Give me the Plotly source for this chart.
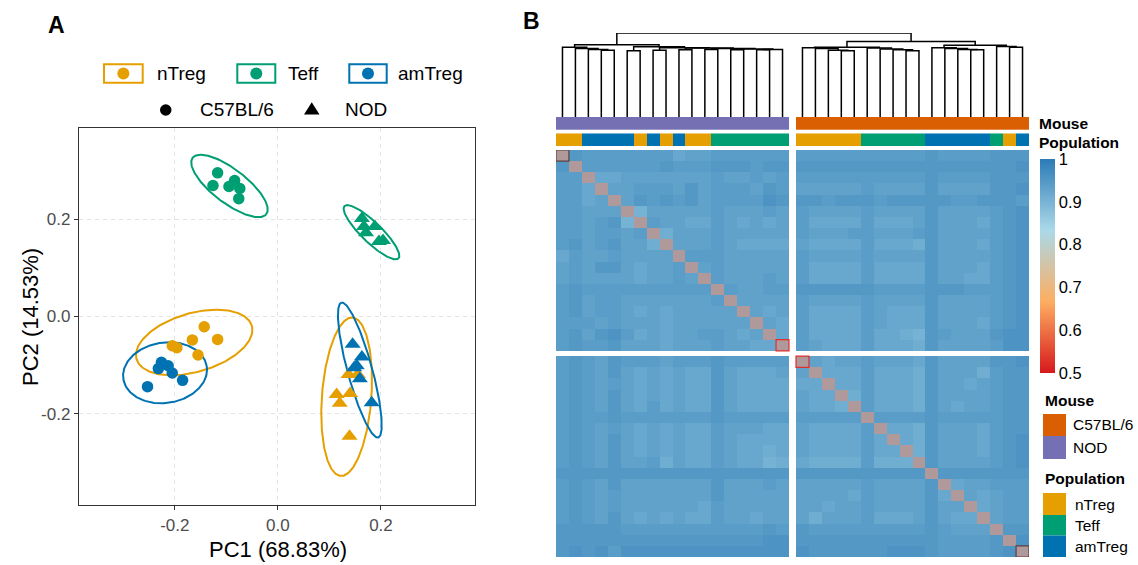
import numpy as np
import plotly.graph_objects as go

W, H = 1138, 565
FONT = "Liberation Sans, Arial, Helvetica, sans-serif"

# ---------------- shared categories ----------------
pop_names = ["nTreg", "Teff", "amTreg"]
pop_colors = ["#E69F00", "#009E73", "#0072B2"]
mouse_names = ["C57BL/6", "NOD"]
mouse_colors = ["#D95F02", "#7570B3"]

# ---------------- Panel A: PCA scores ----------------
ntreg_c57_pc1 = [-0.143, -0.166, -0.117, -0.205, -0.196, -0.155]
ntreg_c57_pc2 = [-0.021, -0.048, -0.047, -0.060, -0.064, -0.079]
teff_c57_pc1 = [-0.117, -0.126, -0.095, -0.084, -0.074, -0.076]
teff_c57_pc2 = [0.295, 0.269, 0.267, 0.279, 0.263, 0.242]
amtreg_c57_pc1 = [-0.226, -0.232, -0.213, -0.205, -0.185, -0.253]
amtreg_c57_pc2 = [-0.094, -0.107, -0.101, -0.116, -0.131, -0.144]
ntreg_nod_pc1 = [0.137, 0.155, 0.114, 0.140, 0.120, 0.139]
ntreg_nod_pc2 = [-0.119, -0.119, -0.160, -0.158, -0.178, -0.246]
teff_nod_pc1 = [0.163, 0.167, 0.188, 0.171, 0.196, 0.204]
teff_nod_pc2 = [0.201, 0.185, 0.185, 0.172, 0.154, 0.156]
amtreg_nod_pc1 = [0.145, 0.163, 0.153, 0.159, 0.182, 0.148]
amtreg_nod_pc2 = [-0.057, -0.083, -0.101, -0.128, -0.177, -0.105]

# 95% ellipses (centre, semi-axes, rotation in degrees)
ellipse_pop = ["Teff", "Teff", "nTreg", "amTreg", "nTreg", "amTreg"]
ellipse_cx = [-0.094, 0.1816, -0.1625, -0.219, 0.1334, 0.159]
ellipse_cy = [0.268, 0.173, -0.0533, -0.1155, -0.1647, -0.110]
ellipse_a = [0.092, 0.075, 0.117, 0.082, 0.163, 0.143]
ellipse_b = [0.034, 0.020, 0.060, 0.062, 0.048, 0.024]
ellipse_angle = [-39.5, -46.0, 17.6, 10.0, 86.0, 104.4]

x_ticks = [-0.2, 0.0, 0.2]
x_ticktext = ["-0.2", "0.0", "0.2"]
y_ticks = [-0.2, 0.0, 0.2]
y_ticktext = ["-0.2", "0.0", "0.2"]

# ---------------- Panel B: correlation heatmap ----------------
col_mouse = ["NOD"] * 18 + ["C57BL/6"] * 18
col_population = (["nTreg"] * 2 + ["amTreg"] * 4 + ["nTreg", "amTreg", "nTreg", "amTreg"]
                  + ["nTreg"] * 2 + ["Teff"] * 6
                  + ["nTreg"] * 5 + ["Teff"] * 5 + ["amTreg"] * 5 + ["Teff", "nTreg", "amTreg"])

# shade levels (0 = lightest ... 9 = darkest) read cell by cell
nod_nod_upper = [
    "65555555344555555", "5555556555666566", "334444444544545", "44555464555465",
    "4656564555576", "144444544454", "54433543434", "2444544444", "444543333",
    "55544444", "4544444", "544454", "54455", "4444", "434", "43", "3",
]
c57_c57_upper = [
    "43445444364444667", "3335333264442566", "335333264434566", "25333264444566",
    "5333264344566", "555565555566", "33264443566", "3264443567", "264443567",
    "64444567", "6666666", "344555", "43455", "3455", "455", "66", "7",
]
nod_c57_block = [
    "555555555565555666", "666666666666666667", "555555555565555666", "444445444464444667",
    "665666566666556665", "544445444464444567", "533335333464443567", "544455444564444567",
    "433335333264443567", "544445444464444567", "533335333364443567", "533335333364433567",
    "666666555566655567", "544445444464444567", "533335433364444567", "533335433364443567",
    "533335332165444677", "543335333264444577",
]
level_base = 0.894
level_step = 0.009

colorbar_ticks = [0.5, 0.6, 0.7, 0.8, 0.9, 1.0]
colorbar_ticktext = ["0.5", "0.6", "0.7", "0.8", "0.9", "1"]

# dendrogram: (left, right, height); leaves = column index
nod_tree = (
    (0, (1, (2, (3, 4, 0.795), 0.805), 0.815), 0.83),
    ((5, 6, 0.79),
     ((7, 8, 0.795),
      ((9, 10, 0.80),
       ((11, 12, 0.805),
        ((13, 14, 0.80), ((15, 16, 0.80), 17, 0.805), 0.81), 0.815), 0.82), 0.825), 0.835),
    0.86)
c57_tree = (
    ((18, (19, (20, (21, 22, 0.79), 0.795), 0.815), 0.825),
     (23, (24, (25, (26, 27, 0.79), 0.80), 0.81), 0.82), 0.83),
    ((28, (29, (30, (31, 32, 0.80), 0.805), 0.815), 0.825),
     (33, (34, 35, 0.83), 0.84), 0.853),
    0.90)
full_tree = (nod_tree, c57_tree, 1.0)

# ---------------- helpers ----------------
def fx(x):
    return x / W


def fy(y):
    return 1 - y / H


fig = go.Figure()

# ---------------- Panel A traces ----------------
pcol = dict(zip(pop_names, pop_colors))
for k in range(len(ellipse_cx)):
    t = np.linspace(0, 2 * np.pi, 241)
    th = np.deg2rad(ellipse_angle[k])
    a, b = ellipse_a[k], ellipse_b[k]
    ex = ellipse_cx[k] + a * np.cos(th) * np.cos(t) - b * np.sin(th) * np.sin(t)
    ey = ellipse_cy[k] + a * np.sin(th) * np.cos(t) + b * np.cos(th) * np.sin(t)
    fig.add_trace(go.Scatter(x=ex, y=ey, mode="lines", line=dict(color=pcol[ellipse_pop[k]], width=2),
                             hoverinfo="skip", xaxis="x", yaxis="y"))

point_groups = [
    ("nTreg", "C57BL/6", ntreg_c57_pc1, ntreg_c57_pc2),
    ("Teff", "C57BL/6", teff_c57_pc1, teff_c57_pc2),
    ("amTreg", "C57BL/6", amtreg_c57_pc1, amtreg_c57_pc2),
    ("nTreg", "NOD", ntreg_nod_pc1, ntreg_nod_pc2),
    ("Teff", "NOD", teff_nod_pc1, teff_nod_pc2),
    ("amTreg", "NOD", amtreg_nod_pc1, amtreg_nod_pc2),
]
for pop, mouse, xs, ys in point_groups:
    sym = "circle" if mouse == "C57BL/6" else "triangle-up"
    size = 11.5 if mouse == "C57BL/6" else 14
    fig.add_trace(go.Scatter(x=xs, y=ys, mode="markers",
                             marker=dict(symbol=sym, size=size, color=pcol[pop], line=dict(width=0)),
                             name=f"{pop} {mouse}", xaxis="x", yaxis="y"))

# ---------------- Panel B traces ----------------
NB = 18
gap_x = 0.541
gap_y = 0.475


def level(ch):
    return level_base + level_step * int(ch)


def upper_block(rows):
    M = np.ones((NB, NB))
    for i, s in enumerate(rows):
        assert len(s) == NB - 1 - i
        for k, ch in enumerate(s):
            j = i + 1 + k
            M[i, j] = M[j, i] = level(ch)
    return M


TL = upper_block(nod_nod_upper)
BR = upper_block(c57_c57_upper)
TR = np.array([[level(c) for c in row] for row in nod_c57_block])
assert TR.shape == (NB, NB)

Z = np.full((2 * NB + 1, 2 * NB + 1), np.nan)
Z[:NB, :NB] = TL
Z[:NB, NB + 1:] = TR
Z[NB + 1:, :NB] = TR.T
Z[NB + 1:, NB + 1:] = BR

ZD = np.full_like(Z, np.nan)
for i in range(2 * NB):
    g = i + (1 if i >= NB else 0)
    ZD[g, g] = 1.0

x_edges = list(range(NB + 1)) + [NB + gap_x + k for k in range(NB + 1)]
y_edges = list(range(NB + 1)) + [NB + gap_y + k for k in range(NB + 1)]


def to_list(A):
    return [[None if np.isnan(v) else float(v) for v in row] for row in A]


fig.add_trace(go.Heatmap(
    z=to_list(Z), x=x_edges, y=y_edges, zmin=0.5, zmax=1.0,
    colorscale=[[0, "#D7191C"], [1 / 3, "#FDAE61"], [2 / 3, "#ABD9E9"], [1, "#2C7BB6"]],
    xaxis="x2", yaxis="y2", hoverinfo="skip",
    colorbar=dict(x=fx(1040), xanchor="left", xpad=0, ypad=0, y=fy(159), yanchor="top",
                  len=214, lenmode="pixels", thickness=15, thicknessmode="pixels",
                  outlinewidth=0, ticks="", tickvals=colorbar_ticks, ticktext=colorbar_ticktext,
                  tickfont=dict(size=16.5, color="#000000", family=FONT)),
))
fig.add_trace(go.Heatmap(
    z=to_list(ZD), x=x_edges, y=y_edges, zmin=0, zmax=1,
    colorscale=[[0, "#AF999A"], [1, "#AF999A"]], showscale=False,
    xaxis="x2", yaxis="y2", hoverinfo="skip",
))

# annotation bars
pop_code = {p: i for i, p in enumerate(pop_names)}
pop_row = [pop_code[p] for p in col_population[:NB]] + [None] + [pop_code[p] for p in col_population[NB:]]
fig.add_trace(go.Heatmap(z=[pop_row], x=x_edges, y=[0, 1], zmin=0, zmax=2,
                         colorscale=[[0, pop_colors[0]], [0.5, pop_colors[1]], [1, pop_colors[2]]],
                         showscale=False, xaxis="x3", yaxis="y3", hoverinfo="skip"))
mouse_code = {m: i for i, m in enumerate(mouse_names)}
mouse_row = [mouse_code[m] for m in col_mouse[:NB]] + [None] + [mouse_code[m] for m in col_mouse[NB:]]
fig.add_trace(go.Heatmap(z=[mouse_row], x=x_edges, y=[0, 1], zmin=0, zmax=1,
                         colorscale=[[0, mouse_colors[0]], [1, mouse_colors[1]]],
                         showscale=False, xaxis="x4", yaxis="y4", hoverinfo="skip"))


# dendrogram
def leaf_x(j):
    return j + 0.5 + (gap_x if j >= NB else 0)


dx, dy = [], []


def walk(node):
    if isinstance(node, int):
        return leaf_x(node), 0.0
    l, r, h = node
    xl, hl = walk(l)
    xr, hr = walk(r)
    dx.extend([xl, xl, xr, xr, None])
    dy.extend([hl, h, h, hr, None])
    return (xl + xr) / 2, h


walk(full_tree)
fig.add_trace(go.Scatter(x=dx, y=dy, mode="lines", line=dict(color="#000000", width=1.5),
                         hoverinfo="skip", xaxis="x5", yaxis="y5", cliponaxis=False))

# ---------------- layout ----------------
hm_xdom = [fx(556), fx(1029)]
hm_xrange = [0, 2 * NB + gap_x]
hidden = dict(visible=False, showgrid=False, zeroline=False)

axis_common = dict(showgrid=True, gridcolor="#E5E5E5", griddash="4px,4px", gridwidth=1.1,
                   zeroline=False, showline=True, mirror=True, linecolor="#333333", linewidth=1.4,
                   ticks="outside", ticklen=4, tickwidth=1.3, tickcolor="#333333",
                   tickfont=dict(size=17, color="#4D4D4D", family=FONT))

fig.update_layout(
    width=W, height=H, margin=dict(l=0, r=0, t=0, b=0),
    paper_bgcolor="white", plot_bgcolor="white", showlegend=False,
    font=dict(family=FONT, color="#000000"),
    xaxis=dict(domain=[fx(79), fx(475)], range=[-0.386, 0.3825], tickvals=x_ticks, ticktext=x_ticktext,
               anchor="y", **axis_common),
    yaxis=dict(domain=[fy(505), fy(128)], range=[-0.387, 0.387], tickvals=y_ticks, ticktext=y_ticktext,
               anchor="x", **axis_common),
    xaxis2=dict(domain=hm_xdom, range=hm_xrange, anchor="y2", **hidden),
    yaxis2=dict(domain=[fy(557), fy(150)], range=[2 * NB + gap_y, 0], anchor="x2", **hidden),
    xaxis3=dict(domain=hm_xdom, range=hm_xrange, anchor="y3", **hidden),
    yaxis3=dict(domain=[fy(146), fy(133.3)], range=[0, 1], anchor="x3", **hidden),
    xaxis4=dict(domain=hm_xdom, range=hm_xrange, anchor="y4", **hidden),
    yaxis4=dict(domain=[fy(130), fy(116.7)], range=[0, 1], anchor="x4", **hidden),
    xaxis5=dict(domain=hm_xdom, range=hm_xrange, anchor="y5", **hidden),
    yaxis5=dict(domain=[fy(117), fy(33)], range=[0, 1], anchor="x5", **hidden),
)

shapes = []
annots = []


def text(x, y, s, size, bold=False, xanchor="left", angle=0, color="#000000"):
    annots.append(dict(x=fx(x), y=fy(y), xref="paper", yref="paper", text=f"<b>{s}</b>" if bold else s,
                       showarrow=False, xanchor=xanchor, yanchor="middle", textangle=angle,
                       font=dict(size=size, color=color, family=FONT)))


# corner cell outlines on the diagonal
for (x0, y0, col) in [(0, 0, "#5E4040"), (NB - 1, NB - 1, "#E0302E"),
                      (NB + gap_x, NB + gap_y, "#E0302E"), (2 * NB - 1 + gap_x, 2 * NB - 1 + gap_y, "#5E4040")]:
    shapes.append(dict(type="rect", xref="x2", yref="y2", x0=x0, x1=x0 + 1, y0=y0, y1=y0 + 1,
                       line=dict(color=col, width=1.2)))

# panel letters and axis titles
text(56, 25, "A", 23, bold=True, xanchor="center")
text(531, 21, "B", 23, bold=True, xanchor="center")
text(277.5, 549, "PC1 (68.83%)", 22, xanchor="center")
text(30, 317, "PC2 (14.53%)", 22, xanchor="center", angle=-90)

# panel A legend (population keys)
legA_boxes = [(104, 142.7, "nTreg", 155), (237.3, 275.3, "Teff", 286), (349.3, 386.7, "amTreg", 395.7)]
for x0, x1, name, tx in legA_boxes:
    c = pcol[name]
    shapes.append(dict(type="rect", xref="paper", yref="paper", x0=fx(x0), x1=fx(x1), y0=fy(82.7), y1=fy(64.3),
                       line=dict(color=c, width=2), fillcolor="white"))
    cx = (x0 + x1) / 2
    shapes.append(dict(type="circle", xref="paper", yref="paper", x0=fx(cx - 6), x1=fx(cx + 6),
                       y0=fy(79.5), y1=fy(67.5), line=dict(width=0), fillcolor=c))
    text(tx, 73, name, 19)
# mouse keys
shapes.append(dict(type="circle", xref="paper", yref="paper", x0=fx(160), x1=fx(171.5), y0=fy(115.8), y1=fy(104.3),
                   line=dict(width=0), fillcolor="#000000"))
shapes.append(dict(type="path", xref="paper", yref="paper",
                   path=f"M {fx(304)},{fy(114.5)} L {fx(319.5)},{fy(114.5)} L {fx(311.75)},{fy(102.3)} Z",
                   line=dict(width=0), fillcolor="#000000"))
text(197.7, 109.5, "C57BL/6", 19)
text(343.3, 109.5, "NOD", 19)

# heatmap annotation names
text(1036.5, 124, "Mouse", 15.5, bold=True)
text(1036.5, 142.5, "Population", 15.5, bold=True)

# right legends
text(1042.5, 400, "Mouse", 15.5, bold=True)
mouse_leg_rows = [(414, 436, 0), (436, 459, 1)]
for y0, y1, i in mouse_leg_rows:
    shapes.append(dict(type="rect", xref="paper", yref="paper", x0=fx(1043), x1=fx(1066), y0=fy(y1), y1=fy(y0),
                       line=dict(width=0), fillcolor=mouse_colors[i]))
    text(1071, (y0 + y1) / 2, mouse_names[i], 15.5)
text(1042.5, 478.5, "Population", 15.5, bold=True)
pop_leg_rows = [(493, 515, 0), (515, 535.5, 1), (535.5, 557, 2)]
for y0, y1, i in pop_leg_rows:
    shapes.append(dict(type="rect", xref="paper", yref="paper", x0=fx(1043), x1=fx(1066), y0=fy(y1), y1=fy(y0),
                       line=dict(width=0), fillcolor=pop_colors[i]))
    text(1073, (y0 + y1) / 2, pop_names[i], 15.5)

fig.update_layout(shapes=shapes, annotations=annots)
fig.write_html("out.html", config={"displayModeBar": False},
               post_script="document.body.style.margin='0';document.body.style.padding='0';"
                           "document.body.style.overflow='hidden';")
